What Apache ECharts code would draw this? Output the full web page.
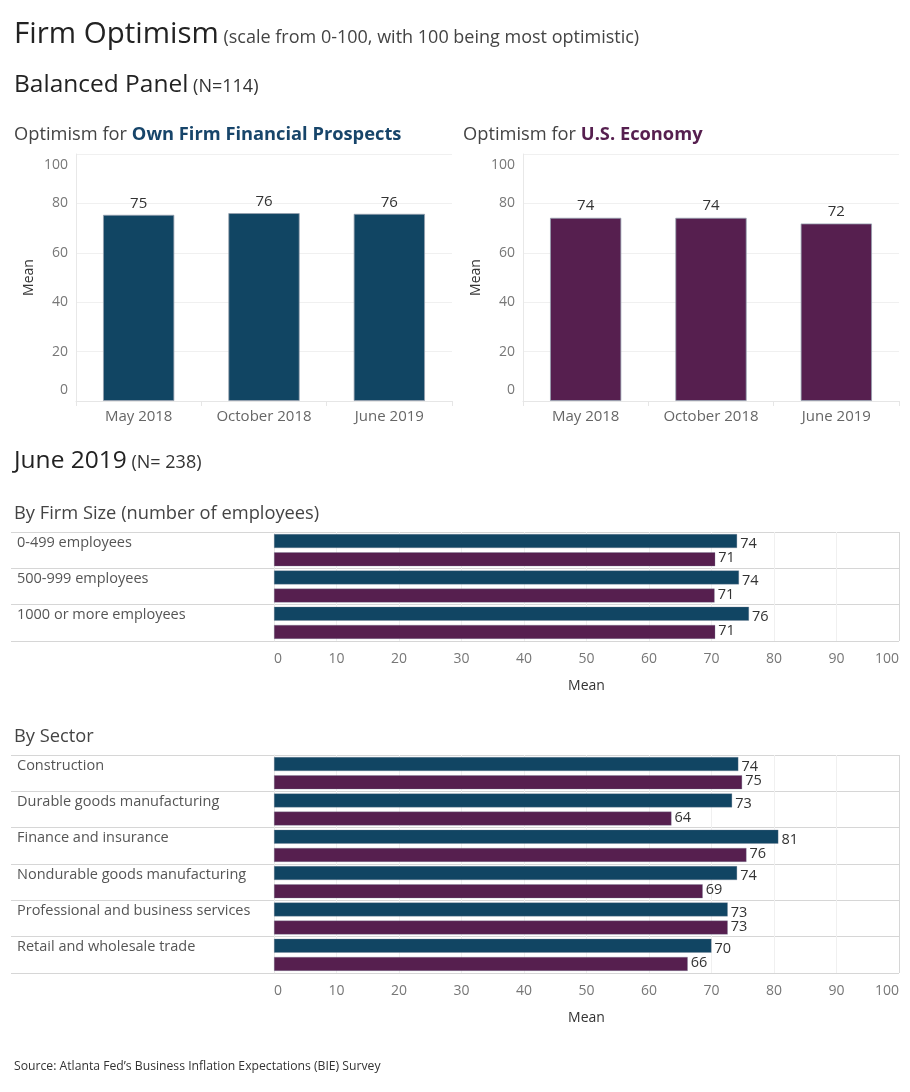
<!DOCTYPE html>
<html>
<head>
<meta charset="utf-8">
<script src="https://cdn.jsdelivr.net/npm/echarts@6/dist/echarts.min.js"></script>
<style>
html, body { margin: 0; padding: 0; background: #fff; }
#chart { width: 910px; height: 1092px; }
</style>
</head>
<body>
<div id="chart"></div>
<script>
// data
const periods = ['May 2018', 'October 2018', 'June 2019'];
const ownFirmPanel = [75.4, 76.1, 75.8];
const usEconomyPanel = [74.2, 74.2, 71.9];

const sizeGroups = ['0-499 employees', '500-999 employees', '1000 or more employees'];
const sizeOwnFirm = [74.1, 74.4, 76.0];
const sizeUsEconomy = [70.6, 70.5, 70.6];

const sectors = ['Construction', 'Durable goods manufacturing', 'Finance and insurance',
  'Nondurable goods manufacturing', 'Professional and business services', 'Retail and wholesale trade'];
const sectorOwnFirm = [74.3, 73.3, 80.7, 74.1, 72.6, 70.0];
const sectorUsEconomy = [74.9, 63.6, 75.6, 68.6, 72.6, 66.2];

const BLUE = '#114563';
const PURPLE = '#561f4f';
const FONT = "'Open Sans', sans-serif";

let chart = echarts.init(document.getElementById('chart'));

function heading(text, left, top, rich) {
  return { text, left, top, padding: 0, textStyle: { fontFamily: FONT, fontWeight: 'normal', rich } };
}

const bigRich = {
  a: { fontSize: 29.5, color: '#222', fontWeight: 'normal', fontFamily: FONT, verticalAlign: 'bottom' },
  b: { fontSize: 18, color: '#444', fontWeight: 'normal', fontFamily: FONT, verticalAlign: 'bottom', padding: [0, 0, 3, 0] }
};
const midRich = {
  a: { fontSize: 24.5, color: '#222', fontWeight: 'normal', fontFamily: FONT, verticalAlign: 'bottom' },
  b: { fontSize: 18, color: '#333', fontWeight: 'normal', fontFamily: FONT, verticalAlign: 'bottom', padding: [0, 0, 2, 0] }
};
const subRich = {
  a: { fontSize: 18.3, color: '#444', fontWeight: 'normal', fontFamily: FONT },
  blue: { fontSize: 18.3, color: '#17456a', fontWeight: 'bold', fontFamily: FONT },
  purple: { fontSize: 18.3, color: '#561f4f', fontWeight: 'bold', fontFamily: FONT }
};

function colAxisX(idx) {
  return {
    type: 'category', gridIndex: idx, data: periods,
    axisLine: { lineStyle: { color: '#e6e6e6' } },
    axisTick: { show: true, length: 5, lineStyle: { color: '#e6e6e6' } },
    axisLabel: { color: '#666', fontSize: 15, margin: 8, fontFamily: FONT }
  };
}
function colAxisY(idx) {
  return {
    type: 'value', gridIndex: idx, min: 0, max: 100, interval: 20,
    name: 'Mean', nameLocation: 'middle', nameRotate: 90, nameGap: 40,
    nameTextStyle: { color: '#333', fontSize: 14, fontFamily: FONT },
    axisLine: { show: true, lineStyle: { color: '#e8e8e8' } },
    splitLine: { lineStyle: { color: '#f0f0f0' } },
    axisLabel: {
      color: '#777', fontSize: 14, margin: 8, fontFamily: FONT,
      // end labels sit inside the plot, like the original
      formatter: v => v === 100 ? '{top|100}' : v === 0 ? '{bot|0}' : String(v),
      rich: {
        top: { color: '#777', fontSize: 14, fontFamily: FONT, padding: [22, 0, 0, 0] },
        bot: { color: '#777', fontSize: 14, fontFamily: FONT, padding: [0, 0, 22, 0] }
      }
    }
  };
}
function rowAxisX(idx) {
  return {
    type: 'value', gridIndex: idx, min: 0, max: 100, interval: 10,
    name: 'Mean', nameLocation: 'middle', nameGap: 38,
    nameTextStyle: { color: '#333', fontSize: 14, fontFamily: FONT },
    axisLine: { show: false }, axisTick: { show: false },
    splitLine: { lineStyle: { color: '#f0f0f0' } },
    axisLabel: { color: '#777', fontSize: 14, margin: 11, fontFamily: FONT,
      alignMinLabel: 'left', alignMaxLabel: 'right' }
  };
}
function rowAxisY(idx, cats) {
  return {
    type: 'category', gridIndex: idx, data: cats, inverse: true,
    axisLine: { show: true, lineStyle: { color: '#e8e8e8' } },
    axisTick: { show: false }, axisLabel: { show: false }
  };
}
// full-width axes that draw the table frame and the row names
function tableAxisX(idx) {
  return {
    type: 'value', gridIndex: idx, min: 0, max: 1, interval: 1,
    axisLine: { show: false }, axisTick: { show: false }, axisLabel: { show: false },
    splitLine: { show: true, showMinLine: false, lineStyle: { color: '#d6d6d6' } }
  };
}
function tableAxisY(idx, cats) {
  return {
    type: 'category', gridIndex: idx, data: cats, inverse: true,
    axisLine: { show: false }, axisTick: { show: false },
    splitLine: { show: true, lineStyle: { color: '#d6d6d6', width: 1 } },
    axisLabel: { inside: true, margin: 6, verticalAlign: 'bottom', color: '#555',
      fontSize: 14.5, fontFamily: FONT }
  };
}

function colSeries(idx, data, color) {
  return {
    type: 'bar', xAxisIndex: idx, yAxisIndex: idx, data, barWidth: '57%',
    itemStyle: { color, borderColor: 'rgba(150,160,175,0.8)', borderWidth: 1 },
    label: { show: true, position: 'top', distance: 4, color: '#333', fontSize: 15,
      fontFamily: FONT, formatter: p => Math.round(p.value) }
  };
}
function rowSeries(idx, data, color, dy) {
  return {
    type: 'bar', xAxisIndex: idx, yAxisIndex: idx, data, barWidth: 14, barGap: '30%',
    itemStyle: { color, borderColor: 'rgba(120,130,150,0.6)', borderWidth: 0.5 },
    label: { show: true, position: 'right', distance: 3, offset: [0, dy], color: '#333',
      fontSize: 14.5, fontFamily: FONT, formatter: p => Math.round(p.value) }
  };
}

let option = {
  backgroundColor: '#fff',
  animation: false,
  textStyle: { fontFamily: FONT },
  title: [
    heading('{a|Firm Optimism}{b| (scale from 0-100, with 100 being most optimistic)}', 14, 20, bigRich),
    heading('{a|Balanced Panel}{b| (N=114)}', 14, 73, midRich),
    heading('{a|Optimism for }{blue|Own Firm Financial Prospects}', 14, 126, subRich),
    heading('{a|Optimism for }{purple|U.S. Economy}', 463, 126, subRich),
    heading('{a|June 2019}{b| (N= 238)}', 14, 449, midRich),
    heading('{a|By Firm Size (number of employees)}', 14, 505, subRich),
    heading('{a|By Sector}', 14, 728, subRich),
    { text: 'Source: Atlanta Fed\u2019s Business Inflation Expectations (BIE) Survey', left: 14, top: 1061,
      padding: 0, textStyle: { fontSize: 12.2, fontWeight: 'normal', color: '#333', fontFamily: FONT } }
  ],
  grid: [
    { left: 76, top: 154, width: 376, height: 247 },
    { left: 523, top: 154, width: 376, height: 247 },
    { left: 274, top: 532, width: 625, height: 109 },
    { left: 274, top: 755, width: 625, height: 218 },
    { left: 11, top: 532, width: 888, height: 109 },
    { left: 11, top: 755, width: 888, height: 218 }
  ],
  xAxis: [
    colAxisX(0), colAxisX(1), rowAxisX(2), rowAxisX(3), tableAxisX(4), tableAxisX(5)
  ],
  yAxis: [
    colAxisY(0), colAxisY(1), rowAxisY(2, sizeGroups), rowAxisY(3, sectors),
    tableAxisY(4, sizeGroups), tableAxisY(5, sectors)
  ],
  series: [
    colSeries(0, ownFirmPanel, BLUE),
    colSeries(1, usEconomyPanel, PURPLE),
    rowSeries(2, sizeOwnFirm, BLUE, 3),
    rowSeries(2, sizeUsEconomy, PURPLE, -1),
    rowSeries(3, sectorOwnFirm, BLUE, 3),
    rowSeries(3, sectorUsEconomy, PURPLE, -1)
  ]
};

chart.setOption(option);
</script>
</body>
</html>
